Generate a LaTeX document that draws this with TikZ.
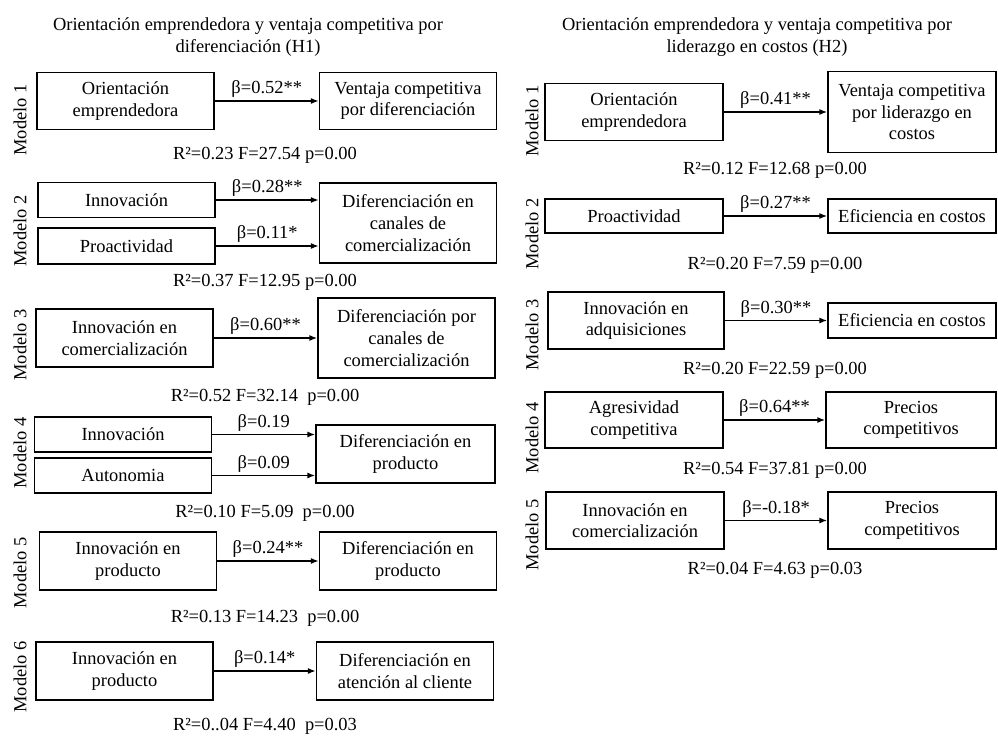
\documentclass[tikz,border=0pt]{standalone}
\usepackage{fontspec}
\setmainfont{Liberation Serif}
\usetikzlibrary{arrows.meta}
\begin{document}
\begin{tikzpicture}[x=0.02cm,y=-0.02cm,
  every node/.style={font=\fontsize{10.5}{12.3}\selectfont,align=center,inner sep=1pt},
  box/.style={draw,line width=0.9pt,minimum width=3.54cm,minimum height=#1},
  box/.default=1.14cm,
  modelo/.style={rotate=90},
  beta/.style={above,inner sep=1.5pt},
  link/.style={line width=0.9pt,-{Latex[length=4.5pt,width=3.5pt]}}]
\useasboundingbox (0,0) rectangle (998,737);
\node (t1) at (248,37) {Orientación emprendedora y ventaja competitiva por\\diferenciación (H1)};
\node (t2) at (757,37) {Orientación emprendedora y ventaja competitiva por\\liderazgo en costos (H2)};
% H1
\node[modelo] (l1) at (20,120) {Modelo 1};
\node[box] (a1) at (125.5,101) {Orientación\\emprendedora};
\node[box] (b1) at (408,101) {Ventaja competitiva\\por diferenciación};
\draw[link] (a1) -- node[beta] {β=0.52**} (b1);
\node (s1) at (265,155) {R²=0.23 F=27.54 p=0.00};
\node[modelo] (l2) at (20,231) {Modelo 2};
\node[box=0.7cm] (a2) at (126.5,200) {Innovación};
\node[box=0.72cm] (p2) at (126.5,246) {Proactividad};
\node[box=1.6cm] (b2) at (408,223) {Diferenciación en\\canales de\\comercialización};
\draw[link] (a2) -- node[beta] {β=0.28**} (a2 -| b2.west);
\draw[link] (p2) -- node[beta] {β=0.11*} (p2 -| b2.west);
\node (s2) at (265,282) {R²=0.37 F=12.95 p=0.00};
\node[modelo] (l3) at (20,345) {Modelo 3};
\node[box=1.16cm] (a3) at (124.5,338) {Innovación en\\comercialización};
\node[box=1.6cm] (b3) at (406.5,338) {Diferenciación por\\canales de\\comercialización};
\draw[link] (a3) -- node[beta] {β=0.60**} (b3);
\node (s3) at (265,397) {R²=0.52 F=32.14~ p=0.00};
\node[modelo] (l4) at (20,453) {Modelo 4};
\node[box=0.7cm] (a4) at (123,434.5) {Innovación};
\node[box=0.7cm] (n4) at (123,475.5) {Autonomia};
\node[box=1.16cm,minimum width=3.58cm] (b4) at (405.5,454) {Diferenciación en\\producto};
\draw[link] (a4) -- node[beta] {β=0.19} (a4 -| b4.west);
\draw[link] (n4) -- node[beta] {β=0.09} (n4 -| b4.west);
\node (s4) at (265,513) {R²=0.10 F=5.09~ p=0.00};
\node[modelo] (l5) at (20,573) {Modelo 5};
\node[box=1.16cm] (a5) at (128,561) {Innovación en\\producto};
\node[box=1.16cm] (b5) at (408,561) {Diferenciación en\\producto};
\draw[link] (a5) -- node[beta] {β=0.24**} (b5);
\node (s5) at (265,618) {R²=0.13 F=14.23~ p=0.00};
\node[modelo] (l6) at (20,677) {Modelo 6};
\node[box=1.16cm] (a6) at (124.5,671) {Innovación en\\producto};
\node[box=1.16cm] (b6) at (405,671) {Diferenciación en\\atención al cliente};
\draw[link] (a6) -- node[beta] {β=0.14*} (b6);
\node (s6) at (265,726) {R²=0..04 F=4.40~ p=0.03};
% H2
\node[modelo] (k1) at (532,121) {Modelo 1};
\node[box,minimum width=3.56cm] (c1) at (634,112) {Orientación\\emprendedora};
\node[box=1.62cm,minimum width=3.36cm] (d1) at (912,112) {Ventaja competitiva\\por liderazgo en\\costos};
\draw[link] (c1) -- node[beta] {β=0.41**} (d1);
\node (u1) at (775,170) {R²=0.12 F=12.68 p=0.00};
\node[modelo] (k2) at (532,234) {Modelo 2};
\node[box=0.68cm,minimum width=3.56cm] (c2) at (634,216) {Proactividad};
\node[box=0.68cm,minimum width=3.36cm] (d2) at (912,216) {Eficiencia en costos};
\draw[link] (c2) -- node[beta] {β=0.27**} (d2);
\node (u2) at (775,265) {R²=0.20 F=7.59 p=0.00};
\node[modelo] (k3) at (532,335) {Modelo 3};
\node[box,minimum width=3.52cm] (c3) at (636,320.5) {Innovación en\\adquisiciones};
\node[box=0.7cm,minimum width=3.36cm] (d3) at (912,320.5) {Eficiencia en costos};
\draw[link] (c3) -- node[beta] {β=0.30**} (d3);
\node (u3) at (775,370) {R²=0.20 F=22.59 p=0.00};
\node[modelo] (k4) at (532,438) {Modelo 4};
\node[box=1.12cm,minimum width=3.56cm] (c4) at (634,420) {Agresividad\\competitiva};
\node[box=1.12cm,minimum width=3.4cm] (d4) at (911,420) {Precios\\competitivos};
\draw[link] (c4) -- node[beta] {β=0.64**} (d4);
\node (u4) at (775,470) {R²=0.54 F=37.81 p=0.00};
\node[modelo] (k5) at (532,535) {Modelo 5};
\node[box,minimum width=3.56cm] (c5) at (635,520.5) {Innovación en\\comercialización};
\node[box,minimum width=3.36cm] (d5) at (912,520.5) {Precios\\competitivos};
\draw[link] (c5) -- node[beta] {β=-0.18*} (d5);
\node (u5) at (775,570) {R²=0.04 F=4.63 p=0.03};
\end{tikzpicture}
\end{document}
